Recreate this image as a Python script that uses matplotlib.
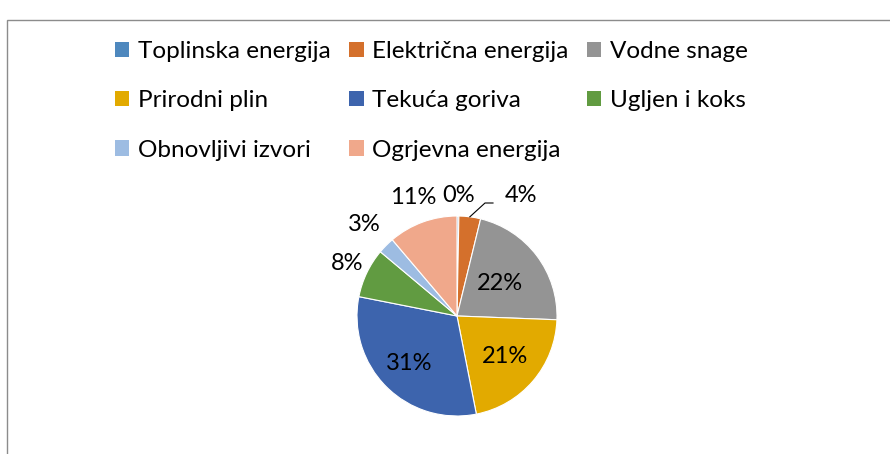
import matplotlib
matplotlib.use("Agg")
import matplotlib.pyplot as plt
import numpy as np
from matplotlib.patches import Rectangle

categories = ["Toplinska energija", "Električna energija", "Vodne snage",
              "Prirodni plin", "Tekuća goriva", "Ugljen i koks",
              "Obnovljivi izvori", "Ogrjevna energija"]
values = [0.3, 3.5, 21.8, 21.3, 31.2, 8.0, 2.7, 11.2]
colors = ["#4E88BE", "#D4702C", "#949494", "#E2AA00", "#3D64AD",
          "#619B41", "#9DBCE2", "#F0A88B"]

plt.rcParams['font.family'] = ['Lato', 'DejaVu Sans']

W, H = 890, 454
fig = plt.figure(figsize=(W / 100, H / 100), dpi=100)

# frame
fig.patches.append(Rectangle((7 / W, -0.1), 2, (1 - 20 / H) + 0.1,
                             transform=fig.transFigure, fill=False,
                             edgecolor="#8c8c8c", lw=1.0))

# pie axes: center (457,316) px, radius 100 px
cx, cy, R = 457, 316, 100
lim = 1.5
ax = fig.add_axes([(cx - lim * R) / W, (H - cy - lim * R) / H,
                   2 * lim * R / W, 2 * lim * R / H])
wedges, _ = ax.pie(values, colors=colors, startangle=90, counterclock=False,
                   radius=1.0, wedgeprops=dict(edgecolor="white", linewidth=0.8))
ax.set_xlim(-lim, lim)
ax.set_ylim(-lim, lim)
ax.set_aspect("equal")
ax.axis("off")

total = sum(values)
label_r = [1.21, 1.36, 0.54, 0.63, 0.67, 1.22, 1.30, 1.26]
for i, w in enumerate(wedges):
    pct = values[i] / total * 100
    mid = np.deg2rad((w.theta1 + w.theta2) / 2)
    r = label_r[i]
    x, y = r * np.cos(mid), r * np.sin(mid)
    if i == 1:
        # leader line label
        x, y = 0.64, 1.21
        px, py = 1.0 * np.cos(mid), 1.0 * np.sin(mid)
        ax.plot([px, 0.28, 0.36], [py, 1.13, 1.13], color="black", lw=0.8,
                clip_on=False)
    ax.text(x, y, f"{pct:.0f}%", ha="center", va="center", fontsize=17,
            color="black", clip_on=False)

# legend
order = [0, 3, 6, 1, 4, 7, 2, 5]
handles = [Rectangle((0, 0), 1, 1, facecolor=colors[i], edgecolor="none")
           for i in order]
labels = [categories[i] for i in order]
fig.legend(handles, labels, ncol=3, loc="upper left",
           bbox_to_anchor=(93 / W, 1 - 19 / H), frameon=False,
           fontsize=17.5, handlelength=0.6, handleheight=0.6,
           handletextpad=0.35, columnspacing=0.75, labelspacing=1.17)

fig.savefig("out.png", dpi=100)
